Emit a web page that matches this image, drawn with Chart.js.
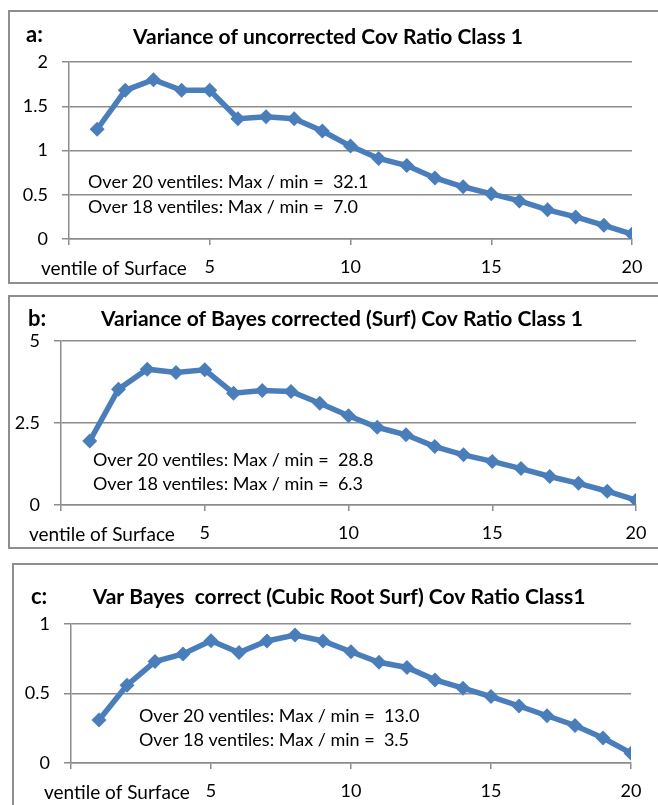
<!DOCTYPE html>
<html>
<head>
<meta charset="utf-8">
<script src="https://cdn.jsdelivr.net/npm/chart.js@4.4.1/dist/chart.umd.min.js"></script>
<style>
  body { margin: 0; background: #fff; width: 658px; height: 805px; overflow: hidden; position: relative; }
  .frame { position: absolute; border: 2px solid #8e8e8e; box-sizing: border-box; }
  canvas { position: absolute; left: 0; }
</style>
</head>
<body>
<div class="frame" style="left:8px;top:10px;width:700px;height:274px"></div>
<div class="frame" style="left:8px;top:295px;width:700px;height:254px"></div>
<div class="frame" style="left:12px;top:563px;width:700px;height:260px"></div>
<canvas id="chart-a" width="658" height="288" style="top:0px"></canvas>
<canvas id="chart-b" width="658" height="268" style="top:288px"></canvas>
<canvas id="chart-c" width="658" height="249" style="top:556px"></canvas>
<script>
const ventiles = [1, 2, 3, 4, 5, 6, 7, 8, 9, 10, 11, 12, 13, 14, 15, 16, 17, 18, 19, 20];

// a: uncorrected
const varUncorrected = [1.24, 1.68, 1.80, 1.68, 1.68, 1.36, 1.38, 1.36, 1.22, 1.05,
                        0.91, 0.83, 0.69, 0.59, 0.51, 0.43, 0.33, 0.25, 0.155, 0.056];
// b: Bayes corrected (Surf)
const varBayesSurf = [1.95, 3.53, 4.14, 4.04, 4.12, 3.41, 3.49, 3.46, 3.10, 2.72,
                      2.37, 2.14, 1.78, 1.53, 1.33, 1.11, 0.87, 0.66, 0.42, 0.145];
// c: Bayes corrected (cubic root Surf)
const varBayesCubic = [0.31, 0.56, 0.73, 0.785, 0.88, 0.795, 0.878, 0.92, 0.878, 0.80,
                       0.725, 0.687, 0.598, 0.538, 0.478, 0.41, 0.34, 0.27, 0.18, 0.071];

const xTicks = [0, 5, 10, 15, 20];
const xAxisText = "ventile of Surface";

const blue = "#4a7ebb";
const gridGray = "#8c8c8c";
const fontFamily = "Lato, 'Open Sans', sans-serif";

const panels = [
  {
    id: "chart-a", letter: "a:", title: "Variance of uncorrected Cov Ratio Class 1",
    values: varUncorrected, yMax: 2, yStep: 0.5,
    area: { left: 69, right: 632, top: 62, bottom: 239 },
    letterPos: [26, 35], titlePos: [328, 37],
    notes: ["Over 20 ventiles: Max / min =  32.1", "Over 18 ventiles: Max / min =  7.0"],
    notePos: [88, 182, 207], axisTextPos: [41, 269]
  },
  {
    id: "chart-b", letter: "b:", title: "Variance of Bayes corrected (Surf) Cov Ratio Class 1",
    values: varBayesSurf, yMax: 5, yStep: 2.5,
    area: { left: 61, right: 636, top: 53, bottom: 217 },
    letterPos: [28, 31], titlePos: [342, 31],
    notes: ["Over 20 ventiles: Max / min =  28.8", "Over 18 ventiles: Max / min =  6.3"],
    notePos: [93, 172, 196], axisTextPos: [29, 247]
  },
  {
    id: "chart-c", letter: "c:", title: "Var Bayes  correct (Cubic Root Surf) Cov Ratio Class1",
    values: varBayesCubic, yMax: 1, yStep: 0.5,
    area: { left: 71, right: 631, top: 68, bottom: 207 },
    letterPos: [31, 41], titlePos: [339, 41],
    notes: ["Over 20 ventiles: Max / min =  13.0", "Over 18 ventiles: Max / min =  3.5"],
    notePos: [139, 160, 184], axisTextPos: [44, 237]
  }
];

const panelText = {
  id: "panelText",
  afterDraw(chart, args, opts) {
    const p = opts.panel;
    const ctx = chart.ctx;
    ctx.save();
    ctx.fillStyle = "#000";
    ctx.textBaseline = "middle";
    ctx.font = "bold 22px " + fontFamily;
    ctx.textAlign = "left";
    ctx.fillText(p.letter, p.letterPos[0], p.letterPos[1]);
    ctx.font = "bold 21px " + fontFamily;
    ctx.textAlign = "center";
    ctx.fillText(p.title, p.titlePos[0], p.titlePos[1]);
    ctx.font = "18px " + fontFamily;
    ctx.textAlign = "left";
    ctx.fillText(p.notes[0], p.notePos[0], p.notePos[1]);
    ctx.fillText(p.notes[1], p.notePos[0], p.notePos[2]);
    ctx.font = "19px " + fontFamily;
    ctx.fillText(xAxisText, p.axisTextPos[0], p.axisTextPos[1]);
    ctx.restore();
  }
};

panels.forEach(function (p) {
  const canvas = document.getElementById(p.id);
  const W = canvas.width, H = canvas.height;
  new Chart(canvas, {
    type: "line",
    data: {
      datasets: [{
        data: ventiles.map((v, i) => ({ x: v, y: p.values[i] })),
        borderColor: blue,
        backgroundColor: blue,
        borderWidth: 5.5,
        pointStyle: "rectRot",
        pointRadius: 7.5,
        pointBorderWidth: 0,
        tension: 0
      }]
    },
    options: {
      responsive: false,
      animation: false,
      layout: { padding: { top: p.area.top, right: W - p.area.right, left: 0, bottom: 0 } },
      plugins: {
        legend: { display: false },
        tooltip: { enabled: false },
        panelText: { panel: p }
      },
      scales: {
        x: {
          type: "linear",
          min: 0, max: 20,
          afterBuildTicks: (s) => { s.ticks = xTicks.map(v => ({ value: v })); },
          afterFit: (s) => { s.height = H - p.area.bottom; },
          ticks: {
            callback: (v) => (v === 0 ? "" : v),
            color: "#000", font: { family: fontFamily, size: 18 }, padding: 11,
            maxRotation: 0, autoSkip: false
          },
          grid: { drawOnChartArea: false, drawTicks: true, tickLength: 6, color: gridGray, lineWidth: 1.5 },
          border: { display: true, color: gridGray, width: 1.5 }
        },
        y: {
          min: 0, max: p.yMax,
          afterFit: (s) => { s.width = p.area.left; },
          ticks: {
            stepSize: p.yStep, callback: (v) => String(v),
            color: "#000", font: { family: fontFamily, size: 18 }, padding: 14
          },
          grid: { color: gridGray, lineWidth: 1.5, tickLength: 7 },
          border: { display: true, color: gridGray, width: 1.5 }
        }
      }
    },
    plugins: [panelText]
  });
});
</script>
</body>
</html>
